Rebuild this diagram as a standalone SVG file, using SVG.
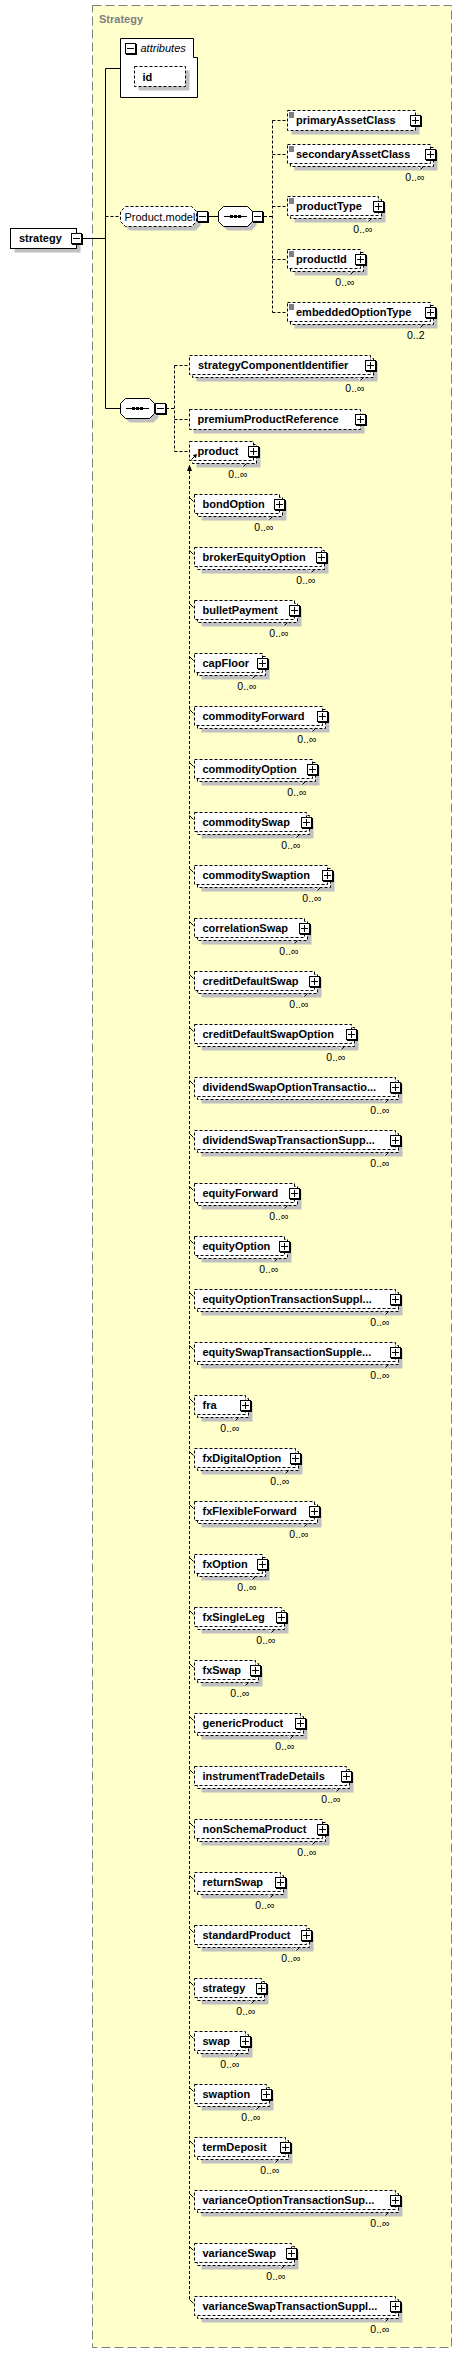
<svg xmlns="http://www.w3.org/2000/svg" width="462" height="2354" viewBox="0 0 462 2354">
<defs>
<style>
.fr{fill:#ffffcc;stroke:#808080;stroke-dasharray:9,4}
.ttl{font:bold 11px "Liberation Sans",Arial,sans-serif;fill:#808080}
.sh{fill:#c0c0c0}
.bx{fill:#fff;stroke:#000;stroke-dasharray:3,2}
.sb{fill:#fff;stroke:#000}
.nm{font:bold 11px "Liberation Sans",Arial,sans-serif;fill:#000}
.rg{font:11px "Liberation Sans",Arial,sans-serif;fill:#000}
.it{font:italic 11px "Liberation Sans",Arial,sans-serif;fill:#000}
.oc{font:10.5px "Liberation Sans",Arial,sans-serif;fill:#000;text-anchor:end}
.ln{fill:none;stroke:#000}
.dl{fill:none;stroke:#000;stroke-dasharray:3,2}
</style>
<g id="bp"><rect x="-4.5" y="-4.5" width="11" height="11" fill="#000"/><rect x="-5" y="-5" width="10" height="10" fill="#fff" stroke="#000"/><path d="M-3.5,0H3.5M0,-3.5V3.5" stroke="#000"/></g>
<g id="bm"><rect x="-4.5" y="-4.5" width="11" height="11" fill="#000"/><rect x="-5" y="-5" width="10" height="10" fill="#fff" stroke="#000"/><path d="M-3.5,0H3.5" stroke="#000"/></g>
<g id="mk"><path d="M-13,22l3,3" stroke="#fff"/><path d="M-10,25l3,-3" stroke="#000"/></g>
<g id="ic"><path d="M289,2.5h5M289,4.5h5M289,6.5h5" stroke="#000"/></g>
</defs>

<rect class="fr" x="92.5" y="5.5" width="359" height="2342"/>
<text class="ttl" x="99" y="23">Strategy</text>

<g id="connectors">
<path class="ln" d="M82,238.5H105.5M105.5,68.5V408.5M105.5,68.5H120.5M105.5,408.5H120.5M208,216.5H218.5"/>
<path class="dl" d="M105.5,216.5H120.5M264,216.5H272.5M272.5,120.5V312.5M272.5,120.5H287.5M272.5,154.5H287.5M272.5,206.5H287.5M272.5,259.5H287.5M272.5,312.5H287.5M166,408.5H174.5M174.5,365.5V451.5M174.5,365.5H189.5M174.5,419.5H189.5M174.5,451.5H189.5M189.5,471V2300"/>
<polygon points="189.5,464.5 187,471 192,471" fill="#000"/>
<path class="ln" d="M189.5,497.5l4,4M189.5,550.5l4,4M189.5,603.5l4,4M189.5,656.5l4,4M189.5,709.5l4,4M189.5,762.5l4,4M189.5,815.5l4,4M189.5,868.5l4,4M189.5,921.5l4,4M189.5,974.5l4,4M189.5,1027.5l4,4M189.5,1080.5l4,4M189.5,1133.5l4,4M189.5,1186.5l4,4M189.5,1239.5l4,4M189.5,1292.5l4,4M189.5,1345.5l4,4M189.5,1398.5l4,4M189.5,1451.5l4,4M189.5,1504.5l4,4M189.5,1557.5l4,4M189.5,1610.5l4,4M189.5,1663.5l4,4M189.5,1716.5l4,4M189.5,1769.5l4,4M189.5,1822.5l4,4M189.5,1875.5l4,4M189.5,1928.5l4,4M189.5,1981.5l4,4M189.5,2034.5l4,4M189.5,2087.5l4,4M189.5,2140.5l4,4M189.5,2193.5l4,4M189.5,2246.5l4,4M189.5,2299.5l4,4"/>
</g>

<g id="node-strategy">
<rect class="sh" x="14.5" y="232.5" width="66" height="20"/>
<rect class="sb" x="10.5" y="228.5" width="66" height="20"/>
<text class="nm" x="19" y="242">strategy</text>
<use href="#bm" x="76.5" y="238.5"/>
</g>

<g id="node-attributes">
<polygon class="sb" points="120.5,38.5 193.5,38.5 193.5,57.5 197.5,57.5 197.5,97.5 120.5,97.5"/>
<use href="#bm" x="130.5" y="48.5"/>
<text class="it" x="140.5" y="52">attributes</text>
</g>
<g id="attr-id">
<rect class="sh" x="138.5" y="70.5" width="51" height="20"/>
<rect class="bx" x="134.5" y="66.5" width="51" height="20"/>
<text class="nm" x="142.5" y="80.5">id</text>
</g>

<g id="group-Product.model">
<polygon class="sh" points="129.5,210.5 195.5,210.5 200.5,215.5 200.5,225.5 195.5,230.5 129.5,230.5 124.5,225.5 124.5,215.5"/>
<polygon class="bx" points="125.5,206.5 191.5,206.5 196.5,211.5 196.5,221.5 191.5,226.5 125.5,226.5 120.5,221.5 120.5,211.5"/>
<text class="rg" x="124.5" y="220.5">Product.model</text>
<use href="#bm" x="202.5" y="216.5"/>
</g>

<g id="seq-model">
<polygon class="sh" points="227.5,210.5 251.5,210.5 256.5,215.5 256.5,225.5 251.5,230.5 227.5,230.5 222.5,225.5 222.5,215.5"/>
<polygon class="sb" points="223.5,206.5 247.5,206.5 252.5,211.5 252.5,221.5 247.5,226.5 223.5,226.5 218.5,221.5 218.5,211.5"/>
<path class="ln" d="M224,216.5H247"/>
<rect x="230" y="215" width="3" height="3"/><rect x="234" y="215" width="3" height="3"/><rect x="238" y="215" width="3" height="3"/>
<use href="#bm" x="257.5" y="216.5"/>
</g>

<g id="seq-main">
<polygon class="sh" points="129.5,402.5 153.5,402.5 158.5,407.5 158.5,417.5 153.5,422.5 129.5,422.5 124.5,417.5 124.5,407.5"/>
<polygon class="sb" points="125.5,398.5 149.5,398.5 154.5,403.5 154.5,413.5 149.5,418.5 125.5,418.5 120.5,413.5 120.5,403.5"/>
<path class="ln" d="M126,408.5H149"/>
<rect x="132" y="407" width="3" height="3"/><rect x="136" y="407" width="3" height="3"/><rect x="140" y="407" width="3" height="3"/>
<use href="#bm" x="160.5" y="408.5"/>
</g>

<g id="el-primaryAssetClass" transform="translate(0,110.5)">
<rect class="sh" x="291.5" y="4" width="128" height="20"/>
<rect class="bx" x="287.5" width="128" height="20"/>
<use href="#ic"/>
<text class="nm" x="296" y="13.5">primaryAssetClass</text>
<use href="#bp" x="415.5" y="10"/>
</g>
<g id="el-secondaryAssetClass" transform="translate(0,144.5)">
<rect class="sh" x="294.5" y="7" width="143" height="19"/>
<rect class="bx" x="290.5" y="3" width="143" height="19"/>
<rect class="bx" x="287.5" width="143" height="19"/>
<use href="#ic"/>
<text class="nm" x="296" y="13.5">secondaryAssetClass</text>
<use href="#bp" x="430.5" y="10"/><use href="#mk" x="430.5"/>
<text class="oc" x="424.5" y="36">0..∞</text>
</g>
<g id="el-productType" transform="translate(0,196.5)">
<rect class="sh" x="294.5" y="7" width="91" height="19"/>
<rect class="bx" x="290.5" y="3" width="91" height="19"/>
<rect class="bx" x="287.5" width="91" height="19"/>
<use href="#ic"/>
<text class="nm" x="296" y="13.5">productType</text>
<use href="#bp" x="378.5" y="10"/><use href="#mk" x="378.5"/>
<text class="oc" x="372.5" y="36.5">0..∞</text>
</g>
<g id="el-productId" transform="translate(0,249.5)">
<rect class="sh" x="294.5" y="7" width="73" height="19"/>
<rect class="bx" x="290.5" y="3" width="73" height="19"/>
<rect class="bx" x="287.5" width="73" height="19"/>
<use href="#ic"/>
<text class="nm" x="296" y="13.5">productId</text>
<use href="#bp" x="360.5" y="10"/><use href="#mk" x="360.5"/>
<text class="oc" x="354.5" y="36.5">0..∞</text>
</g>
<g id="el-embeddedOptionType" transform="translate(0,302.5)">
<rect class="sh" x="294.5" y="7" width="143" height="19"/>
<rect class="bx" x="290.5" y="3" width="143" height="19"/>
<rect class="bx" x="287.5" width="143" height="19"/>
<use href="#ic"/>
<text class="nm" x="296" y="13.5">embeddedOptionType</text>
<use href="#bp" x="430.5" y="10"/><use href="#mk" x="430.5"/>
<text class="oc" x="424.5" y="36.5">0..2</text>
</g>

<g id="el-strategyComponentIdentifier" transform="translate(0,355.5)">
<rect class="sh" x="196.5" y="7" width="181" height="19"/>
<rect class="bx" x="192.5" y="3" width="181" height="19"/>
<rect class="bx" x="189.5" width="181" height="19"/>
<text class="nm" x="198" y="13.5">strategyComponentIdentifier</text>
<use href="#bp" x="370.5" y="10"/><use href="#mk" x="370.5"/>
<text class="oc" x="364.5" y="36.5">0..∞</text>
</g>
<g id="el-premiumProductReference" transform="translate(0,409.5)">
<rect class="sh" x="193.5" y="4" width="171" height="20"/>
<rect class="bx" x="189.5" width="171" height="20"/>
<text class="nm" x="197.5" y="13.5">premiumProductReference</text>
<use href="#bp" x="360.5" y="10"/>
</g>
<g id="el-product" transform="translate(0,441.5)">
<rect class="sh" x="196.5" y="7" width="64" height="19"/>
<rect class="bx" x="192.5" y="3" width="64" height="19"/>
<rect class="bx" x="189.5" width="64" height="19"/>
<text class="nm" x="197.5" y="13.5">product</text>
<path class="ln" d="M191.5,18L195.5,14"/><polygon points="197,12.5 192.8,13.6 195.9,16.7" fill="#000"/>
<use href="#bp" x="253.5" y="10"/><use href="#mk" x="253.5"/>
<text class="oc" x="247.5" y="36.5">0..∞</text>
</g>

<g id="el-bondOption" transform="translate(0,494.5)">
<rect class="sh" x="201.5" y="7" width="85" height="19"/><rect class="bx" x="197.5" y="3" width="85" height="19"/><rect class="bx" x="194.5" width="85" height="19"/>
<text class="nm" x="202.5" y="13.5">bondOption</text>
<use href="#bp" x="279.5" y="10"/><use href="#mk" x="279.5"/>
<text class="oc" x="273.5" y="36.5">0..∞</text>
</g>
<g id="el-brokerEquityOption" transform="translate(0,547.5)">
<rect class="sh" x="201.5" y="7" width="127" height="19"/><rect class="bx" x="197.5" y="3" width="127" height="19"/><rect class="bx" x="194.5" width="127" height="19"/>
<text class="nm" x="202.5" y="13.5">brokerEquityOption</text>
<use href="#bp" x="321.5" y="10"/><use href="#mk" x="321.5"/>
<text class="oc" x="315.5" y="36.5">0..∞</text>
</g>
<g id="el-bulletPayment" transform="translate(0,600.5)">
<rect class="sh" x="201.5" y="7" width="100" height="19"/><rect class="bx" x="197.5" y="3" width="100" height="19"/><rect class="bx" x="194.5" width="100" height="19"/>
<text class="nm" x="202.5" y="13.5">bulletPayment</text>
<use href="#bp" x="294.5" y="10"/><use href="#mk" x="294.5"/>
<text class="oc" x="288.5" y="36.5">0..∞</text>
</g>
<g id="el-capFloor" transform="translate(0,653.5)">
<rect class="sh" x="201.5" y="7" width="68" height="19"/><rect class="bx" x="197.5" y="3" width="68" height="19"/><rect class="bx" x="194.5" width="68" height="19"/>
<text class="nm" x="202.5" y="13.5">capFloor</text>
<use href="#bp" x="262.5" y="10"/><use href="#mk" x="262.5"/>
<text class="oc" x="256.5" y="36.5">0..∞</text>
</g>
<g id="el-commodityForward" transform="translate(0,706.5)">
<rect class="sh" x="201.5" y="7" width="128" height="19"/><rect class="bx" x="197.5" y="3" width="128" height="19"/><rect class="bx" x="194.5" width="128" height="19"/>
<text class="nm" x="202.5" y="13.5">commodityForward</text>
<use href="#bp" x="322.5" y="10"/><use href="#mk" x="322.5"/>
<text class="oc" x="316.5" y="36.5">0..∞</text>
</g>
<g id="el-commodityOption" transform="translate(0,759.5)">
<rect class="sh" x="201.5" y="7" width="118" height="19"/><rect class="bx" x="197.5" y="3" width="118" height="19"/><rect class="bx" x="194.5" width="118" height="19"/>
<text class="nm" x="202.5" y="13.5">commodityOption</text>
<use href="#bp" x="312.5" y="10"/><use href="#mk" x="312.5"/>
<text class="oc" x="306.5" y="36.5">0..∞</text>
</g>
<g id="el-commoditySwap" transform="translate(0,812.5)">
<rect class="sh" x="201.5" y="7" width="112" height="19"/><rect class="bx" x="197.5" y="3" width="112" height="19"/><rect class="bx" x="194.5" width="112" height="19"/>
<text class="nm" x="202.5" y="13.5">commoditySwap</text>
<use href="#bp" x="306.5" y="10"/><use href="#mk" x="306.5"/>
<text class="oc" x="300.5" y="36.5">0..∞</text>
</g>
<g id="el-commoditySwaption" transform="translate(0,865.5)">
<rect class="sh" x="201.5" y="7" width="133" height="19"/><rect class="bx" x="197.5" y="3" width="133" height="19"/><rect class="bx" x="194.5" width="133" height="19"/>
<text class="nm" x="202.5" y="13.5">commoditySwaption</text>
<use href="#bp" x="327.5" y="10"/><use href="#mk" x="327.5"/>
<text class="oc" x="321.5" y="36.5">0..∞</text>
</g>
<g id="el-correlationSwap" transform="translate(0,918.5)">
<rect class="sh" x="201.5" y="7" width="110" height="19"/><rect class="bx" x="197.5" y="3" width="110" height="19"/><rect class="bx" x="194.5" width="110" height="19"/>
<text class="nm" x="202.5" y="13.5">correlationSwap</text>
<use href="#bp" x="304.5" y="10"/><use href="#mk" x="304.5"/>
<text class="oc" x="298.5" y="36.5">0..∞</text>
</g>
<g id="el-creditDefaultSwap" transform="translate(0,971.5)">
<rect class="sh" x="201.5" y="7" width="120" height="19"/><rect class="bx" x="197.5" y="3" width="120" height="19"/><rect class="bx" x="194.5" width="120" height="19"/>
<text class="nm" x="202.5" y="13.5">creditDefaultSwap</text>
<use href="#bp" x="314.5" y="10"/><use href="#mk" x="314.5"/>
<text class="oc" x="308.5" y="36.5">0..∞</text>
</g>
<g id="el-creditDefaultSwapOption" transform="translate(0,1024.5)">
<rect class="sh" x="201.5" y="7" width="157" height="19"/><rect class="bx" x="197.5" y="3" width="157" height="19"/><rect class="bx" x="194.5" width="157" height="19"/>
<text class="nm" x="202.5" y="13.5">creditDefaultSwapOption</text>
<use href="#bp" x="351.5" y="10"/><use href="#mk" x="351.5"/>
<text class="oc" x="345.5" y="36.5">0..∞</text>
</g>
<g id="el-dividendSwapOptionTransactionSupplement" transform="translate(0,1077.5)">
<rect class="sh" x="201.5" y="7" width="201" height="19"/><rect class="bx" x="197.5" y="3" width="201" height="19"/><rect class="bx" x="194.5" width="201" height="19"/>
<text class="nm" x="202.5" y="13.5">dividendSwapOptionTransactio...</text>
<use href="#bp" x="395.5" y="10"/><use href="#mk" x="395.5"/>
<text class="oc" x="389.5" y="36.5">0..∞</text>
</g>
<g id="el-dividendSwapTransactionSupplement" transform="translate(0,1130.5)">
<rect class="sh" x="201.5" y="7" width="201" height="19"/><rect class="bx" x="197.5" y="3" width="201" height="19"/><rect class="bx" x="194.5" width="201" height="19"/>
<text class="nm" x="202.5" y="13.5">dividendSwapTransactionSupp...</text>
<use href="#bp" x="395.5" y="10"/><use href="#mk" x="395.5"/>
<text class="oc" x="389.5" y="36.5">0..∞</text>
</g>
<g id="el-equityForward" transform="translate(0,1183.5)">
<rect class="sh" x="201.5" y="7" width="100" height="19"/><rect class="bx" x="197.5" y="3" width="100" height="19"/><rect class="bx" x="194.5" width="100" height="19"/>
<text class="nm" x="202.5" y="13.5">equityForward</text>
<use href="#bp" x="294.5" y="10"/><use href="#mk" x="294.5"/>
<text class="oc" x="288.5" y="36.5">0..∞</text>
</g>
<g id="el-equityOption" transform="translate(0,1236.5)">
<rect class="sh" x="201.5" y="7" width="90" height="19"/><rect class="bx" x="197.5" y="3" width="90" height="19"/><rect class="bx" x="194.5" width="90" height="19"/>
<text class="nm" x="202.5" y="13.5">equityOption</text>
<use href="#bp" x="284.5" y="10"/><use href="#mk" x="284.5"/>
<text class="oc" x="278.5" y="36.5">0..∞</text>
</g>
<g id="el-equityOptionTransactionSupplement" transform="translate(0,1289.5)">
<rect class="sh" x="201.5" y="7" width="201" height="19"/><rect class="bx" x="197.5" y="3" width="201" height="19"/><rect class="bx" x="194.5" width="201" height="19"/>
<text class="nm" x="202.5" y="13.5">equityOptionTransactionSuppl...</text>
<use href="#bp" x="395.5" y="10"/><use href="#mk" x="395.5"/>
<text class="oc" x="389.5" y="36.5">0..∞</text>
</g>
<g id="el-equitySwapTransactionSupplement" transform="translate(0,1342.5)">
<rect class="sh" x="201.5" y="7" width="201" height="19"/><rect class="bx" x="197.5" y="3" width="201" height="19"/><rect class="bx" x="194.5" width="201" height="19"/>
<text class="nm" x="202.5" y="13.5">equitySwapTransactionSupple...</text>
<use href="#bp" x="395.5" y="10"/><use href="#mk" x="395.5"/>
<text class="oc" x="389.5" y="36.5">0..∞</text>
</g>
<g id="el-fra" transform="translate(0,1395.5)">
<rect class="sh" x="201.5" y="7" width="51" height="19"/><rect class="bx" x="197.5" y="3" width="51" height="19"/><rect class="bx" x="194.5" width="51" height="19"/>
<text class="nm" x="202.5" y="13.5">fra</text>
<use href="#bp" x="245.5" y="10"/><use href="#mk" x="245.5"/>
<text class="oc" x="239.5" y="36.5">0..∞</text>
</g>
<g id="el-fxDigitalOption" transform="translate(0,1448.5)">
<rect class="sh" x="201.5" y="7" width="101" height="19"/><rect class="bx" x="197.5" y="3" width="101" height="19"/><rect class="bx" x="194.5" width="101" height="19"/>
<text class="nm" x="202.5" y="13.5">fxDigitalOption</text>
<use href="#bp" x="295.5" y="10"/><use href="#mk" x="295.5"/>
<text class="oc" x="289.5" y="36.5">0..∞</text>
</g>
<g id="el-fxFlexibleForward" transform="translate(0,1501.5)">
<rect class="sh" x="201.5" y="7" width="120" height="19"/><rect class="bx" x="197.5" y="3" width="120" height="19"/><rect class="bx" x="194.5" width="120" height="19"/>
<text class="nm" x="202.5" y="13.5">fxFlexibleForward</text>
<use href="#bp" x="314.5" y="10"/><use href="#mk" x="314.5"/>
<text class="oc" x="308.5" y="36.5">0..∞</text>
</g>
<g id="el-fxOption" transform="translate(0,1554.5)">
<rect class="sh" x="201.5" y="7" width="68" height="19"/><rect class="bx" x="197.5" y="3" width="68" height="19"/><rect class="bx" x="194.5" width="68" height="19"/>
<text class="nm" x="202.5" y="13.5">fxOption</text>
<use href="#bp" x="262.5" y="10"/><use href="#mk" x="262.5"/>
<text class="oc" x="256.5" y="36.5">0..∞</text>
</g>
<g id="el-fxSingleLeg" transform="translate(0,1607.5)">
<rect class="sh" x="201.5" y="7" width="87" height="19"/><rect class="bx" x="197.5" y="3" width="87" height="19"/><rect class="bx" x="194.5" width="87" height="19"/>
<text class="nm" x="202.5" y="13.5">fxSingleLeg</text>
<use href="#bp" x="281.5" y="10"/><use href="#mk" x="281.5"/>
<text class="oc" x="275.5" y="36.5">0..∞</text>
</g>
<g id="el-fxSwap" transform="translate(0,1660.5)">
<rect class="sh" x="201.5" y="7" width="61" height="19"/><rect class="bx" x="197.5" y="3" width="61" height="19"/><rect class="bx" x="194.5" width="61" height="19"/>
<text class="nm" x="202.5" y="13.5">fxSwap</text>
<use href="#bp" x="255.5" y="10"/><use href="#mk" x="255.5"/>
<text class="oc" x="249.5" y="36.5">0..∞</text>
</g>
<g id="el-genericProduct" transform="translate(0,1713.5)">
<rect class="sh" x="201.5" y="7" width="106" height="19"/><rect class="bx" x="197.5" y="3" width="106" height="19"/><rect class="bx" x="194.5" width="106" height="19"/>
<text class="nm" x="202.5" y="13.5">genericProduct</text>
<use href="#bp" x="300.5" y="10"/><use href="#mk" x="300.5"/>
<text class="oc" x="294.5" y="36.5">0..∞</text>
</g>
<g id="el-instrumentTradeDetails" transform="translate(0,1766.5)">
<rect class="sh" x="201.5" y="7" width="152" height="19"/><rect class="bx" x="197.5" y="3" width="152" height="19"/><rect class="bx" x="194.5" width="152" height="19"/>
<text class="nm" x="202.5" y="13.5">instrumentTradeDetails</text>
<use href="#bp" x="346.5" y="10"/><use href="#mk" x="346.5"/>
<text class="oc" x="340.5" y="36.5">0..∞</text>
</g>
<g id="el-nonSchemaProduct" transform="translate(0,1819.5)">
<rect class="sh" x="201.5" y="7" width="128" height="19"/><rect class="bx" x="197.5" y="3" width="128" height="19"/><rect class="bx" x="194.5" width="128" height="19"/>
<text class="nm" x="202.5" y="13.5">nonSchemaProduct</text>
<use href="#bp" x="322.5" y="10"/><use href="#mk" x="322.5"/>
<text class="oc" x="316.5" y="36.5">0..∞</text>
</g>
<g id="el-returnSwap" transform="translate(0,1872.5)">
<rect class="sh" x="201.5" y="7" width="86" height="19"/><rect class="bx" x="197.5" y="3" width="86" height="19"/><rect class="bx" x="194.5" width="86" height="19"/>
<text class="nm" x="202.5" y="13.5">returnSwap</text>
<use href="#bp" x="280.5" y="10"/><use href="#mk" x="280.5"/>
<text class="oc" x="274.5" y="36.5">0..∞</text>
</g>
<g id="el-standardProduct" transform="translate(0,1925.5)">
<rect class="sh" x="201.5" y="7" width="112" height="19"/><rect class="bx" x="197.5" y="3" width="112" height="19"/><rect class="bx" x="194.5" width="112" height="19"/>
<text class="nm" x="202.5" y="13.5">standardProduct</text>
<use href="#bp" x="306.5" y="10"/><use href="#mk" x="306.5"/>
<text class="oc" x="300.5" y="36.5">0..∞</text>
</g>
<g id="el-strategy" transform="translate(0,1978.5)">
<rect class="sh" x="201.5" y="7" width="67" height="19"/><rect class="bx" x="197.5" y="3" width="67" height="19"/><rect class="bx" x="194.5" width="67" height="19"/>
<text class="nm" x="202.5" y="13.5">strategy</text>
<use href="#bp" x="261.5" y="10"/><use href="#mk" x="261.5"/>
<text class="oc" x="255.5" y="36.5">0..∞</text>
</g>
<g id="el-swap" transform="translate(0,2031.5)">
<rect class="sh" x="201.5" y="7" width="51" height="19"/><rect class="bx" x="197.5" y="3" width="51" height="19"/><rect class="bx" x="194.5" width="51" height="19"/>
<text class="nm" x="202.5" y="13.5">swap</text>
<use href="#bp" x="245.5" y="10"/><use href="#mk" x="245.5"/>
<text class="oc" x="239.5" y="36.5">0..∞</text>
</g>
<g id="el-swaption" transform="translate(0,2084.5)">
<rect class="sh" x="201.5" y="7" width="72" height="19"/><rect class="bx" x="197.5" y="3" width="72" height="19"/><rect class="bx" x="194.5" width="72" height="19"/>
<text class="nm" x="202.5" y="13.5">swaption</text>
<use href="#bp" x="266.5" y="10"/><use href="#mk" x="266.5"/>
<text class="oc" x="260.5" y="36.5">0..∞</text>
</g>
<g id="el-termDeposit" transform="translate(0,2137.5)">
<rect class="sh" x="201.5" y="7" width="91" height="19"/><rect class="bx" x="197.5" y="3" width="91" height="19"/><rect class="bx" x="194.5" width="91" height="19"/>
<text class="nm" x="202.5" y="13.5">termDeposit</text>
<use href="#bp" x="285.5" y="10"/><use href="#mk" x="285.5"/>
<text class="oc" x="279.5" y="36.5">0..∞</text>
</g>
<g id="el-varianceOptionTransactionSupplement" transform="translate(0,2190.5)">
<rect class="sh" x="201.5" y="7" width="201" height="19"/><rect class="bx" x="197.5" y="3" width="201" height="19"/><rect class="bx" x="194.5" width="201" height="19"/>
<text class="nm" x="202.5" y="13.5">varianceOptionTransactionSup...</text>
<use href="#bp" x="395.5" y="10"/><use href="#mk" x="395.5"/>
<text class="oc" x="389.5" y="36.5">0..∞</text>
</g>
<g id="el-varianceSwap" transform="translate(0,2243.5)">
<rect class="sh" x="201.5" y="7" width="97" height="19"/><rect class="bx" x="197.5" y="3" width="97" height="19"/><rect class="bx" x="194.5" width="97" height="19"/>
<text class="nm" x="202.5" y="13.5">varianceSwap</text>
<use href="#bp" x="291.5" y="10"/><use href="#mk" x="291.5"/>
<text class="oc" x="285.5" y="36.5">0..∞</text>
</g>
<g id="el-varianceSwapTransactionSupplement" transform="translate(0,2296.5)">
<rect class="sh" x="201.5" y="7" width="201" height="19"/><rect class="bx" x="197.5" y="3" width="201" height="19"/><rect class="bx" x="194.5" width="201" height="19"/>
<text class="nm" x="202.5" y="13.5">varianceSwapTransactionSuppl...</text>
<use href="#bp" x="395.5" y="10"/><use href="#mk" x="395.5"/>
<text class="oc" x="389.5" y="36.5">0..∞</text>
</g>
</svg>
